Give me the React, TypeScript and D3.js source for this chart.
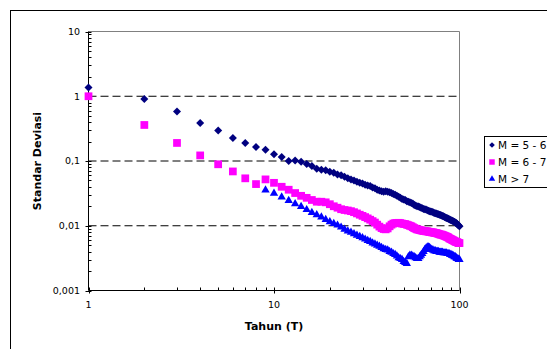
import React from "react";
import * as d3 from "d3";

// tahun (T)
const years = d3.range(1, 101);
const yearsM7 = d3.range(9, 101);

// M = 5 - 6
const sdM56 = [
  1.36, 0.91, 0.58, 0.386, 0.297, 0.226, 0.189, 0.164, 0.149, 0.127,
  0.115, 0.1, 0.102, 0.097, 0.09, 0.084, 0.076, 0.073, 0.072, 0.068,
  0.066, 0.062, 0.06, 0.057, 0.054, 0.052, 0.05, 0.048, 0.046, 0.045,
  0.043, 0.042, 0.041, 0.039, 0.038, 0.036, 0.035, 0.034, 0.0335, 0.034,
  0.0335, 0.033, 0.032, 0.031, 0.03, 0.029, 0.028, 0.027, 0.026, 0.0255,
  0.025, 0.024, 0.0235, 0.023, 0.0225, 0.022, 0.021, 0.0205, 0.02, 0.0198,
  0.0194, 0.019, 0.0186, 0.0182, 0.018, 0.0178, 0.0174, 0.0171, 0.0168, 0.0166,
  0.0164, 0.0161, 0.0158, 0.0156, 0.0154, 0.0152, 0.015, 0.0148, 0.0146, 0.0144,
  0.0142, 0.014, 0.0137, 0.0134, 0.0132, 0.013, 0.0128, 0.0126, 0.0124, 0.0122,
  0.012, 0.0118, 0.0116, 0.0114, 0.0112, 0.011, 0.0107, 0.0104, 0.0101, 0.0098,
];

// M = 6 - 7
const sdM67 = [
  1.0, 0.36, 0.19, 0.122, 0.089, 0.069, 0.054, 0.044, 0.052, 0.046,
  0.04, 0.036, 0.032, 0.029, 0.027, 0.025, 0.0235, 0.0235, 0.023, 0.0215,
  0.02, 0.019, 0.018, 0.0175, 0.0172, 0.0168, 0.0162, 0.0155, 0.0148, 0.0142,
  0.0136, 0.013, 0.0124, 0.0118, 0.0112, 0.0104, 0.0097, 0.0092, 0.0089, 0.0088,
  0.0091, 0.0098, 0.0104, 0.0108, 0.011, 0.011, 0.0111, 0.011, 0.0108, 0.0107,
  0.0106, 0.0104, 0.0102, 0.01, 0.0098, 0.0095, 0.0092, 0.009, 0.0088, 0.0087,
  0.0086, 0.0085, 0.0084, 0.0083, 0.0083, 0.0082, 0.0082, 0.0081, 0.008, 0.008,
  0.0079, 0.0079, 0.0078, 0.0077, 0.0077, 0.0076, 0.0075, 0.0074, 0.0073, 0.0073,
  0.0072, 0.0071, 0.007, 0.0069, 0.0068, 0.0067, 0.0066, 0.0064, 0.0063, 0.0062,
  0.0061, 0.006, 0.0059, 0.0058, 0.0057, 0.0056, 0.0056, 0.0055, 0.0054, 0.0054,
];

// M > 7 (mulai T = 9)
const sdM7 = [
  0.0355, 0.0316,
  0.0277, 0.0244, 0.0218, 0.0198, 0.0177, 0.016, 0.0148, 0.0136, 0.0125, 0.0115,
  0.0108, 0.0102, 0.0095, 0.0088, 0.0083, 0.0079, 0.0075, 0.0071, 0.0068, 0.0065,
  0.0062, 0.0059, 0.0057, 0.0054, 0.0052, 0.005, 0.0048, 0.0046, 0.0044, 0.0043,
  0.0042, 0.004, 0.0039, 0.0037, 0.0036, 0.0034, 0.0032, 0.0031, 0.003, 0.0028,
  0.0027, 0.0026, 0.0033, 0.0035, 0.0035, 0.0034, 0.0033, 0.0032, 0.0031, 0.0031,
  0.0033, 0.0035, 0.0037, 0.004, 0.0043, 0.0045, 0.0047, 0.0047, 0.0046, 0.0044,
  0.0043, 0.0042, 0.0041, 0.0041, 0.004, 0.004, 0.004, 0.0039, 0.0039, 0.0039,
  0.0039, 0.0038, 0.0038, 0.0038, 0.0038, 0.0037, 0.0037, 0.0037, 0.0036, 0.0036,
  0.0035, 0.0035, 0.0034, 0.0033, 0.0033, 0.0032, 0.0031, 0.0031, 0.003, 0.003,
];

const xTicks = [1, 10, 100];
const xLabels = ["1", "10", "100"];
const yTicks = [0.001, 0.01, 0.1, 1, 10];
const yLabels = ["0,001", "0,01", "0,1", "1", "10"];
const gridValues = [0.01, 0.1, 1];
const seriesNames = ["M = 5 - 6", "M = 6 - 7", "M > 7"];

const font = "Verdana, 'DejaVu Sans', sans-serif";

const App = () => {
  const x = d3.scaleLog().domain([1, 100]).range([88.5, 459.5]);
  const y = d3.scaleLog().domain([0.001, 10]).range([290.5, 31.5]);

  const series = [
    { name: seriesNames[0], xs: years, ys: sdM56, color: "#000080", type: d3.symbolSquare, size: 32, legSize: 16, rot: 45 },
    { name: seriesNames[1], xs: years, ys: sdM67, color: "#FF00FF", type: d3.symbolSquare, size: 60, legSize: 30, rot: 0 },
    { name: seriesNames[2], xs: yearsM7, ys: sdM7, color: "#0000FF", type: d3.symbolTriangle, size: 30, legSize: 18, rot: 0 },
  ];

  const yMinor = y.ticks();
  const xMinor = x.ticks();

  return (
    <svg
      width={547}
      height={349}
      style={{ position: "absolute", left: 0, top: 0, background: "#fff" }}
    >
      {/* chart area frame */}
      <rect x={10.5} y={10.5} width={600} height={400} fill="#fff" stroke="#000" />

      {/* plot border */}
      <line x1={x(1)} x2={x(100)} y1={y(10)} y2={y(10)} stroke="#808080" />
      <line x1={x(100)} x2={x(100)} y1={y(10)} y2={y(0.001)} stroke="#808080" />

      {/* gridlines */}
      {gridValues.map((v) => (
        <line
          key={v}
          x1={x(1)}
          x2={x(100)}
          y1={y(v)}
          y2={y(v)}
          stroke="#000"
          strokeDasharray="8,4"
        />
      ))}

      {/* y axis */}
      <line x1={x(1)} x2={x(1)} y1={y(10)} y2={y(0.001)} stroke="#000" />
      {yMinor.map((v, i) => {
        const major = yTicks.includes(v);
        return (
          <line
            key={i}
            x1={x(1) - (major ? 3 : 0)}
            x2={x(1) + 3}
            y1={Math.round(y(v)) + 0.5}
            y2={Math.round(y(v)) + 0.5}
            stroke="#000"
          />
        );
      })}
      {yTicks.map((v, i) => (
        <text
          key={v}
          x={80}
          y={y(v)}
          dy="0.35em"
          textAnchor="end"
          fontFamily={font}
          fontSize={9.5}
          fill="#000"
        >
          {yLabels[i]}
        </text>
      ))}

      {/* x axis */}
      <line x1={x(1)} x2={x(100)} y1={y(0.001)} y2={y(0.001)} stroke="#000" />
      {xMinor.map((v, i) => (
        <line
          key={i}
          x1={Math.round(x(v)) + 0.5}
          x2={Math.round(x(v)) + 0.5}
          y1={y(0.001) - 3}
          y2={y(0.001) + (xTicks.includes(v) ? 3 : 0)}
          stroke="#000"
        />
      ))}
      {xTicks.map((v, i) => (
        <text
          key={v}
          x={x(v)}
          y={308}
          textAnchor="middle"
          fontFamily={font}
          fontSize={9.5}
          fill="#000"
        >
          {xLabels[i]}
        </text>
      ))}

      {/* axis titles */}
      <text
        x={274}
        y={330}
        textAnchor="middle"
        fontFamily={font}
        fontWeight="bold"
        fontSize={11}
        fill="#000"
      >
        Tahun (T)
      </text>
      <text
        transform="translate(41,161) rotate(-90)"
        textAnchor="middle"
        fontFamily={font}
        fontWeight="bold"
        fontSize={11}
        fill="#000"
      >
        Standar Deviasi
      </text>

      {/* markers */}
      {series.map((s) => {
        const d = d3.symbol(s.type, s.size)();
        return (
          <g key={s.name} fill={s.color}>
            {s.ys.map((v, i) => (
              <path
                key={i}
                d={d}
                transform={`translate(${x(s.xs[i])},${y(v)}) rotate(${s.rot})`}
              />
            ))}
          </g>
        );
      })}

      {/* legend */}
      <rect x={484.5} y={136.5} width={80} height={51} fill="#fff" stroke="#000" />
      {series.map((s, i) => (
        <g key={s.name} transform={`translate(0,${145 + i * 17})`}>
          <path
            d={d3.symbol(s.type, s.legSize)()}
            transform={`translate(492,0) rotate(${s.rot})`}
            fill={s.color}
          />
          <text
            x={498}
            y={0}
            dy="0.35em"
            fontFamily={font}
            fontSize={10.5}
            fill="#000"
          >
            {s.name}
          </text>
        </g>
      ))}
    </svg>
  );
};

export default App;
